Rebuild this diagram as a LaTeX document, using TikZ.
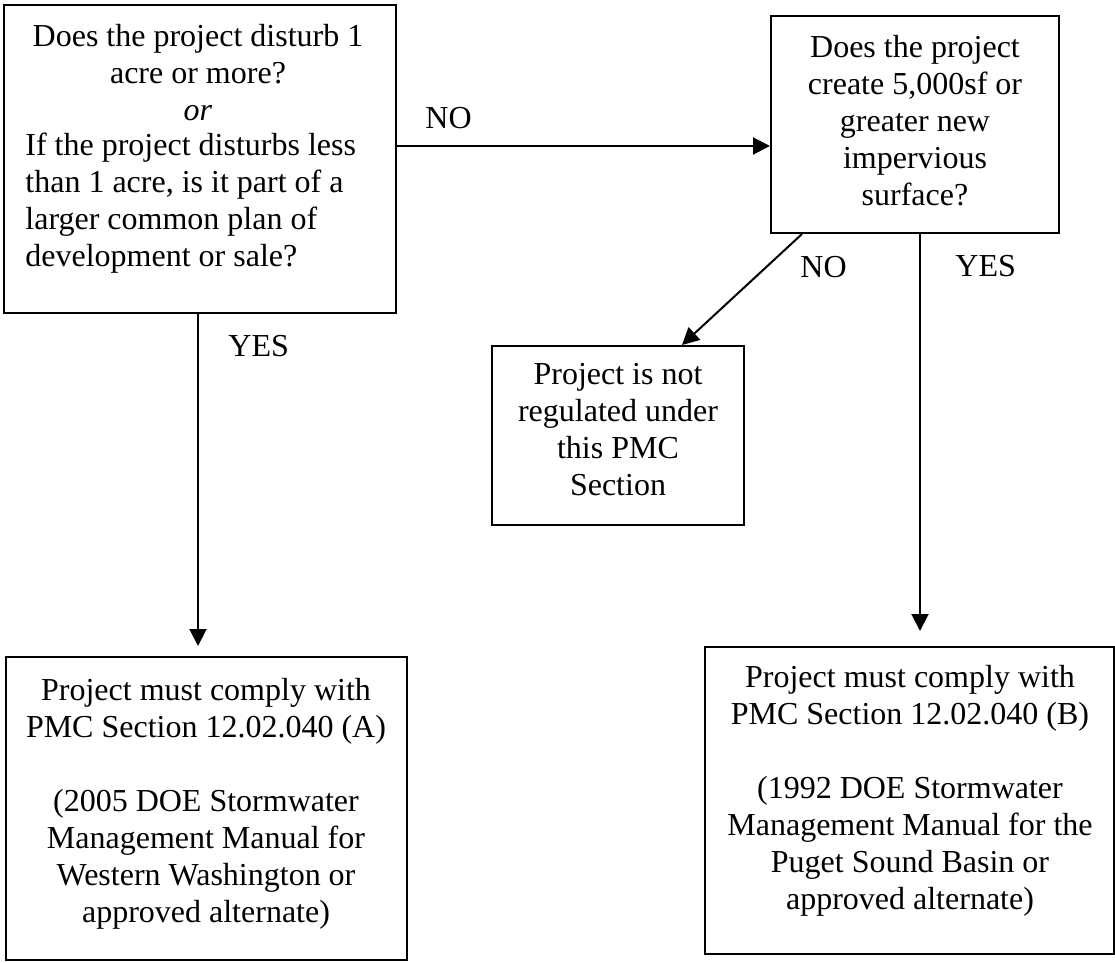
\documentclass[tikz,border=0pt]{standalone}
\usepackage{fontspec}
\setmainfont{Liberation Serif}
\usetikzlibrary{arrows.meta,calc}
\begin{document}
\begin{tikzpicture}[x=0.5pt,y=-0.5pt,
  box/.style={draw,line width=1pt,rectangle,inner sep=0pt},
  txt/.style={inner sep=0pt,font=\fontsize{16}{18.5}\selectfont},
  lbl/.style={inner sep=0pt,font=\fontsize{16}{18.5}\selectfont},
  conn/.style={line width=1pt,-{Triangle[length=8.5pt,width=8.5pt]}}]
\useasboundingbox (0,0) rectangle (1115,963);
\fill[white] (0,0) rectangle (1115,963);
% boxes
\node[box,minimum width=196pt,minimum height=154pt] (b1) at (200,159) {};
\node[box,minimum width=144pt,minimum height=108.5pt] (b2) at (915,124.5) {};
\node[box,minimum width=126pt,minimum height=89.5pt] (b3) at (618,435.5) {};
\node[box,minimum width=200.5pt,minimum height=151.5pt] (b4) at (206.5,808.5) {};
\node[box,minimum width=204.5pt,minimum height=153.5pt] (b5) at (909.5,800.5) {};
% texts
\node[txt,anchor=north,align=center] (t1a) at (198,24) {Does the project disturb 1\\acre or more?\\\textit{or}};
\node[txt,anchor=north west,align=left] (t1b) at (25,133) {If the project disturbs less\\than 1 acre, is it part of a\\larger common plan of\\development or sale?};
\node[txt,anchor=north,align=center] (t2) at (915,35) {Does the project\\create 5,000sf or\\greater new\\impervious\\surface?};
\node[txt,anchor=north,align=center] (t3) at (618,363) {Project is not\\regulated under\\this PMC\\Section};
\node[txt,anchor=north,align=center] (t4) at (206,678) {Project must comply with\\PMC Section 12.02.040 (A)\\[18.5pt](2005 DOE Stormwater\\Management Manual for\\Western Washington or\\approved alternate)};
\node[txt,anchor=north,align=center] (t5) at (910,665) {Project must comply with\\PMC Section 12.02.040 (B)\\[18.5pt](1992 DOE Stormwater\\Management Manual for the\\Puget Sound Basin or\\approved alternate)};
% connectors
\coordinate (yno) at (0,146);
\coordinate (xy1) at (198,0);
\coordinate (xy2) at (920,0);
\draw[conn] (b1.east |- yno) -- (b2.west |- yno);
\draw[conn] ($(b2.south west)+(32,0)$) -- ($(b3.north west)+(191,0)$);
\draw[conn,shorten >=7.5pt] (b2.south -| xy2) -- (b5.north -| xy2);
\draw[conn,shorten >=5pt] (b1.south -| xy1) -- (b4.north -| xy1);
% labels
\node[lbl,anchor=base west] (l1) at (425,129) {NO};
\node[lbl,anchor=base west] (l2) at (800,278) {NO};
\node[lbl,anchor=base west] (l3) at (955,277) {YES};
\node[lbl,anchor=base west] (l4) at (228,357) {YES};
\end{tikzpicture}
\end{document}
